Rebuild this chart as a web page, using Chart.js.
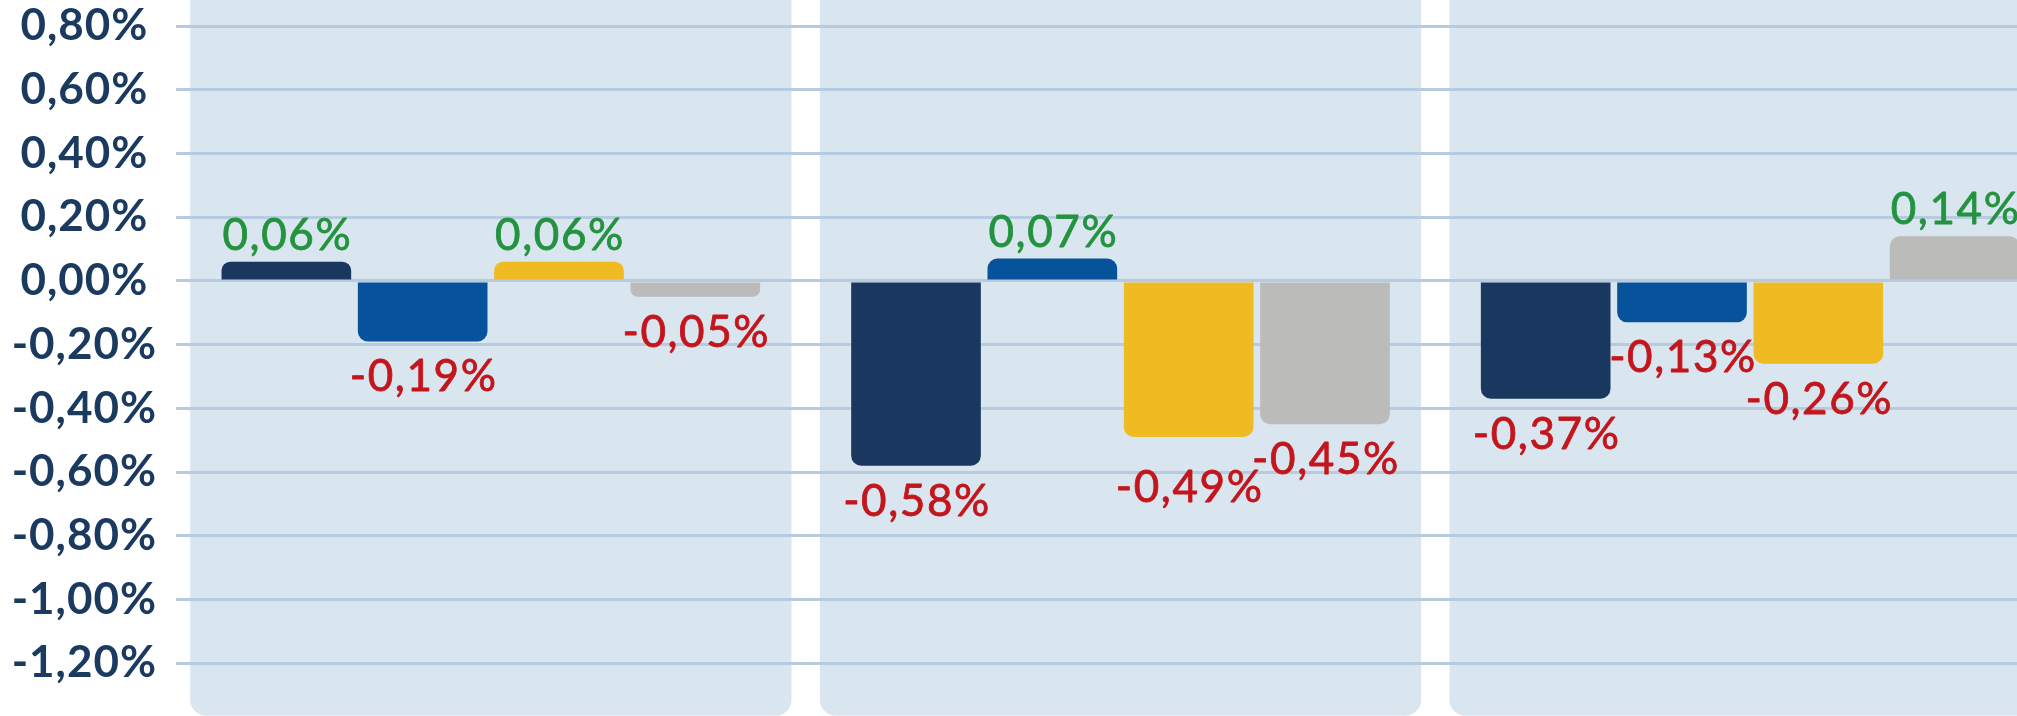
<!DOCTYPE html>
<html lang="pt">
<head>
<meta charset="utf-8">
<title>Variação por grupo</title>
<script src="https://cdn.jsdelivr.net/npm/chart.js@4.4.0/dist/chart.umd.min.js"></script>
<style>
  html, body { margin: 0; padding: 0; background: #fff; overflow: hidden; }
  #wrap { width: 2065px; height: 716px; position: relative; }
</style>
</head>
<body>
<div id="wrap"><canvas id="chart"></canvas></div>
<script>
// three groups, four series each (values in %)
var groups = ["Grupo 1", "Grupo 2", "Grupo 3"];
var serie1 = [0.06, -0.58, -0.37];
var serie2 = [-0.19, 0.07, -0.13];
var serie3 = [0.06, -0.49, -0.26];
var serie4 = [-0.05, -0.45, 0.14];
var serieColors = ["#19375f", "#07539b", "#efba22", "#bbbbb9"];

var GREEN = "#23933f", RED = "#c3161c", NAVY = "#1b3a60";

function pct(v) {
  if (Math.abs(v) < 1e-9) v = 0;
  return v.toFixed(2).replace(".", ",") + "%";
}

// light blue rounded panel behind each group
var panels = {
  id: "panels",
  beforeDraw: function(chart) {
    var x = chart.scales.x, area = chart.chartArea, ctx = chart.ctx;
    var w = x.getPixelForValue(1) - x.getPixelForValue(0);
    var pw = w * 0.955;
    ctx.save();
    ctx.fillStyle = "#d9e5ef";
    groups.forEach(function(g, i) {
      var cx = x.getPixelForValue(i);
      ctx.beginPath();
      ctx.roundRect(cx - pw / 2, area.top - 40, pw, area.bottom - area.top + 40, 16);
      ctx.fill();
    });
    ctx.restore();
    // slightly wider tracking for the axis labels
    ctx.letterSpacing = "1px";
  }
};

// value labels above positive bars, below negative ones
var valueLabels = {
  id: "valueLabels",
  afterDatasetsDraw: function(chart) {
    var ctx = chart.ctx;
    ctx.save();
    ctx.font = "400 44px Lato";
    ctx.letterSpacing = "1.6px";
    ctx.textAlign = "center";
    ctx.textBaseline = "alphabetic";
    ctx.lineWidth = 0.8;
    ctx.lineJoin = "round";
    groups.forEach(function(g, j) {
      var prev = null;
      chart.data.datasets.forEach(function(ds, i) {
        var bar = chart.getDatasetMeta(i).data[j];
        var v = ds.data[j];
        var txt = pct(v);
        var w = ctx.measureText(txt).width;
        var y = v >= 0 ? bar.y - 12 : bar.y + 50;
        // push a label down when it would collide with its neighbour
        if (prev && v < 0 && prev.v < 0 && bar.x - w / 2 < prev.right + 2 &&
            Math.abs(y - prev.y) < 32 && Math.abs(v) < Math.abs(prev.v)) {
          prev.nudge = true;
        }
        prev = {v: v, x: bar.x, y: y, right: bar.x + w / 2, txt: txt, nudge: false};
        ds._lbl = ds._lbl || [];
        ds._lbl[j] = prev;
      });
    });
    chart.data.datasets.forEach(function(ds) {
      ds._lbl.forEach(function(l) {
        var c = l.v >= 0 ? GREEN : RED;
        var y = l.y + (l.nudge ? 15 : 0);
        ctx.fillStyle = c;
        ctx.strokeStyle = c;
        ctx.fillText(l.txt, l.x + 1, y);
        ctx.strokeText(l.txt, l.x + 1, y);
      });
    });
    ctx.restore();
  }
};

var series = [serie1, serie2, serie3, serie4];

new Chart(document.getElementById("chart"), {
  type: "bar",
  data: {
    labels: groups,
    datasets: series.map(function(s, i) {
      return {
        label: "Série " + (i + 1),
        data: s,
        backgroundColor: serieColors[i],
        borderRadius: 10,
        borderSkipped: "start",
        categoryPercentage: 0.866,
        barPercentage: 0.951
      };
    })
  },
  options: {
    responsive: true,
    maintainAspectRatio: false,
    animation: false,
    layout: { padding: 0 },
    plugins: {
      legend: { display: false },
      tooltip: { enabled: false }
    },
    scales: {
      x: { display: false },
      y: {
        min: -1.365,
        max: 0.881,
        afterFit: function(s) { s.width = 176; },
        border: { display: false },
        // invisible tick marks keep the labels away from the plot
        grid: { color: "#b6cbe0", lineWidth: 3, drawTicks: true, tickLength: 22, tickColor: "rgba(0,0,0,0)" },
        ticks: {
          stepSize: 0.2,
          includeBounds: false,
          crossAlign: "center",
          padding: 0,
          color: NAVY,
          // tiny line height so the scale reserves no extra room above/below
          font: { family: "Lato", size: 44, weight: "bold", lineHeight: 0.01 },
          callback: function(v) { return pct(v); }
        }
      }
    }
  },
  plugins: [panels, valueLabels]
});
</script>
</body>
</html>
